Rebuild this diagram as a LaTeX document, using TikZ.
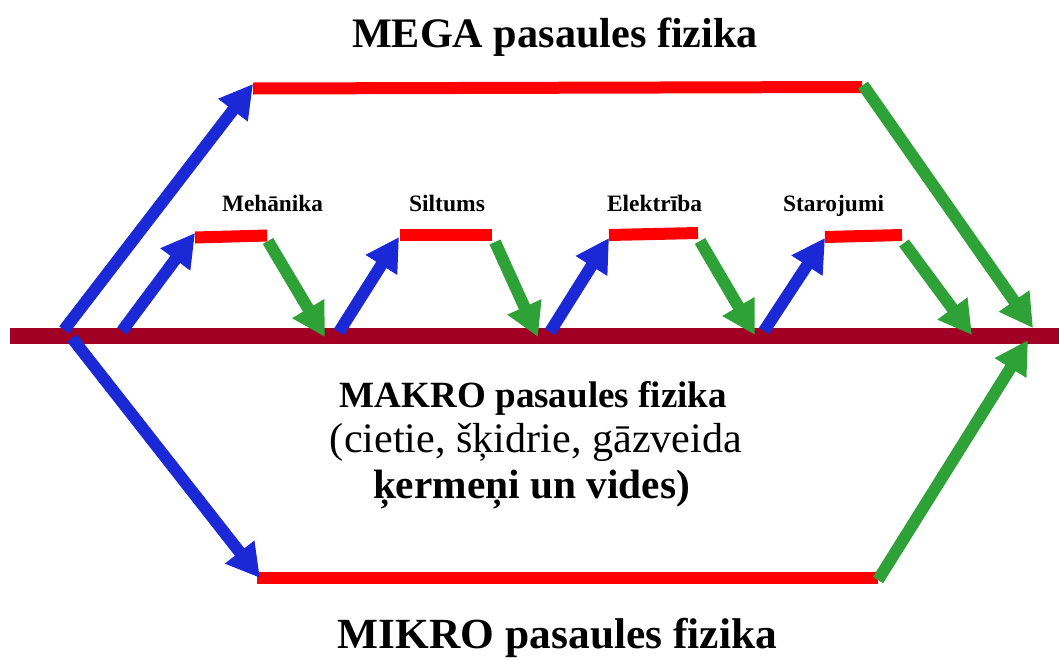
\documentclass[tikz,border=0pt]{standalone}
\usepackage{fontspec}
\setmainfont{Liberation Serif}
\usetikzlibrary{arrows.meta}
\definecolor{basecol}{HTML}{A10024}
\definecolor{lvlred}{HTML}{FF0000}
\definecolor{upblue}{HTML}{1B28D6}
\definecolor{downgreen}{HTML}{2FA237}
% #1 target width, #2 font size, #3 text
\newcommand{\bftxt}[3]{\resizebox{#1pt}{\height}{\fontsize{#2}{#2}\selectfont\bfseries #3}}
\newcommand{\rmtxt}[3]{\resizebox{#1pt}{\height}{\fontsize{#2}{#2}\selectfont #3}}
\tikzset{
  baseline/.style={draw=basecol, line width=16pt},
  levelline/.style={draw=lvlred, line width=12pt},
  uparrow/.style={draw=upblue, line width=12pt, -{Triangle[length=33pt,width=35pt]}},
  downarrow/.style={draw=downgreen, line width=12pt, -{Triangle[length=33pt,width=35pt]}},
  lbl/.style={inner sep=0pt, anchor=base},
}
\begin{document}
\begin{tikzpicture}[x=1pt,y=-1pt]
\useasboundingbox (0,0) rectangle (1059,659);
% main line
\coordinate (mL) at (10,336);
\coordinate (mR) at (1059,336);
\draw[baseline] (mL) -- (mR);
% top (mega)
\coordinate (tS) at (64,330);
\coordinate (tA) at (253,84);
\coordinate (tL) at (253,88.5);
\coordinate (tR) at (862,87);
\coordinate (tG) at (863,85);
\coordinate (tE) at (1033,328);
\draw[levelline] (tL) -- (tR);
\draw[uparrow] (tS) -- (tA);
\draw[downarrow] (tG) -- (tE);
% bottom (mikro)
\coordinate (bS) at (72,338);
\coordinate (bA) at (260,578);
\coordinate (bL) at (257,578);
\coordinate (bR) at (878,578);
\coordinate (bG) at (878,580);
\coordinate (bE) at (1028,340);
\draw[levelline] (bL) -- (bR);
\draw[uparrow] (bS) -- (bA);
\draw[downarrow] (bG) -- (bE);
% Mehanika
\coordinate (a1) at (122,331);
\coordinate (a2) at (195,233);
\coordinate (a3) at (195,237.5);
\coordinate (a4) at (267,235.5);
\coordinate (a5) at (268,241);
\coordinate (a6) at (325,337);
\draw[levelline] (a3) -- (a4);
\draw[uparrow] (a1) -- (a2);
\draw[downarrow] (a5) -- (a6);
% Siltums
\coordinate (s1) at (339,332);
\coordinate (s2) at (399,237);
\coordinate (s3) at (400,235);
\coordinate (s4) at (492,235);
\coordinate (s5) at (495,242);
\coordinate (s6) at (538,337);
\draw[levelline] (s3) -- (s4);
\draw[uparrow] (s1) -- (s2);
\draw[downarrow] (s5) -- (s6);
% Elektriba
\coordinate (e1) at (550,332);
\coordinate (e2) at (609,238);
\coordinate (e3) at (609,235);
\coordinate (e4) at (698,233);
\coordinate (e5) at (700,241);
\coordinate (e6) at (755,335);
\draw[levelline] (e3) -- (e4);
\draw[uparrow] (e1) -- (e2);
\draw[downarrow] (e5) -- (e6);
% Starojumi
\coordinate (r1) at (764,331);
\coordinate (r2) at (825,238);
\coordinate (r3) at (825,237);
\coordinate (r4) at (902,235);
\coordinate (r5) at (904,243);
\coordinate (r6) at (972,335);
\draw[levelline] (r3) -- (r4);
\draw[uparrow] (r1) -- (r2);
\draw[downarrow] (r5) -- (r6);
% labels
\node[lbl] (mega) at (555,47) {\bftxt{406}{42}{MEGA pasaules fizika}};
\node[lbl] (mikro) at (557.5,648) {\bftxt{439}{43}{MIKRO pasaules fizika}};
\node[lbl] (makro1) at (533.5,407) {\bftxt{387}{37}{MAKRO pasaules fizika}};
\node[lbl] (makro2) at (536,452) {\rmtxt{412}{42}{(cietie, šķidrie, gāzveida}};
\node[lbl] (makro3) at (531.5,498) {\bftxt{317}{41}{ķermeņi un vides)}};
\node[lbl] (meh) at (272.5,211) {\bftxt{101}{23.5}{Mehānika}};
\node[lbl] (silt) at (447,211) {\bftxt{76}{23.5}{Siltums}};
\node[lbl] (elek) at (654.5,211) {\bftxt{95}{23.5}{Elektrība}};
\node[lbl] (star) at (833.5,211) {\bftxt{101}{23.5}{Starojumi}};
\end{tikzpicture}
\end{document}
